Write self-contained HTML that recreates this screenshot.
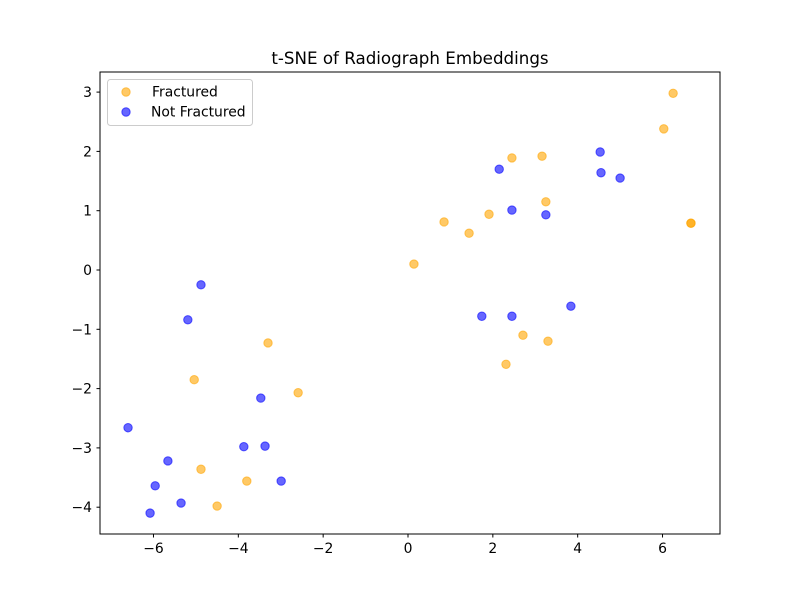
<!DOCTYPE html>
<html><head><meta charset="utf-8"><style>
body{margin:0;background:#fff;}
svg text{font-family:"DejaVu Sans","Liberation Sans",sans-serif;}
</style></head><body>
<svg id="chart" width="800" height="600" xmlns="http://www.w3.org/2000/svg">
<rect width="800" height="600" fill="#fff"/>
<text x="410" y="64" text-anchor="middle" font-size="16.7">t-SNE of Radiograph Embeddings</text>
<g id="ticks"></g>
<g id="marks"></g>
<rect x="100" y="72" width="620" height="462" fill="none" stroke="#000" stroke-width="1"/>
<g>
<rect x="107.5" y="79.5" width="145" height="46" rx="3" fill="#fff" fill-opacity="0.8" stroke="#ccc"/>
<g>
<circle cx="126" cy="92" r="4.2" fill="orange" fill-opacity="0.6" stroke="orange" stroke-opacity="0.6"/>
<text x="152" y="96.5" font-size="13.9">Fractured</text></g>
<g>
<circle cx="126" cy="112" r="4.2" fill="blue" fill-opacity="0.6" stroke="blue" stroke-opacity="0.6"/>
<text x="151" y="116.5" font-size="13.9">Not Fractured</text></g>
</g>
</svg>
<script>
const fracX=[6.25,6.03,2.45,3.16,3.25,0.85,1.91,1.44,6.67,6.67,0.14,2.71,3.30,2.31,-3.30,-5.04,-2.59,-4.88,-3.80,-4.50];
const fracY=[2.98,2.38,1.89,1.92,1.15,0.81,0.94,0.62,0.79,0.79,0.10,-1.10,-1.20,-1.59,-1.23,-1.85,-2.07,-3.36,-3.56,-3.98];
const notX=[4.53,4.55,5.00,2.15,2.45,3.25,3.84,1.74,2.45,-4.88,-5.19,-3.47,-6.60,-3.87,-3.37,-5.66,-2.99,-5.96,-5.35,-6.08];
const notY=[1.99,1.64,1.55,1.70,1.01,0.93,-0.61,-0.78,-0.78,-0.25,-0.84,-2.16,-2.66,-2.98,-2.97,-3.22,-3.56,-3.64,-3.93,-4.10];
const xTicks=[-6,-4,-2,0,2,4,6];
const yTicks=[-4,-3,-2,-1,0,1,2,3];
const NS="http://www.w3.org/2000/svg";
function sx(v){return 408+v*42.42;}
function sy(v){return 270-v*59.3;}
const tg=document.getElementById('ticks');
function lab(v){return v<0?'\u2212'+(-v):''+v;}
xTicks.forEach(v=>{
 const l=document.createElementNS(NS,'line');
 l.setAttribute('x1',sx(v));l.setAttribute('x2',sx(v));l.setAttribute('y1',534);l.setAttribute('y2',537.5);l.setAttribute('stroke','#000');
 
 
 tg.appendChild(l);
 const t=document.createElementNS(NS,'text');
 t.setAttribute('x',sx(v));t.setAttribute('y',553);t.setAttribute('text-anchor','middle');t.setAttribute('font-size','13.9');
 t.textContent=lab(v);
 
 
 tg.appendChild(t);
});
yTicks.forEach(v=>{
 const l=document.createElementNS(NS,'line');
 l.setAttribute('x1',96.5);l.setAttribute('x2',100);l.setAttribute('y1',sy(v));l.setAttribute('y2',sy(v));l.setAttribute('stroke','#000');
 
 
 tg.appendChild(l);
 const t=document.createElementNS(NS,'text');
 t.setAttribute('x',92);t.setAttribute('y',sy(v)+5);t.setAttribute('text-anchor','end');t.setAttribute('font-size','13.9');
 t.textContent=lab(v);
 
 
 tg.appendChild(t);
});
const mg=document.getElementById('marks');
function draw(xs,ys,col,name){
 xs.forEach((x,i)=>{
  const c=document.createElementNS(NS,'circle');
  c.setAttribute('cx',sx(x));c.setAttribute('cy',sy(ys[i]));c.setAttribute('r',4.2);
  c.setAttribute('fill',col);c.setAttribute('fill-opacity',0.6);c.setAttribute('stroke',col);c.setAttribute('stroke-opacity',0.6);
  
  
  mg.appendChild(c);
 });
}
draw(fracX,fracY,'orange','point-fractured');
draw(notX,notY,'blue','point-not-fractured');
</script>
</body></html>
